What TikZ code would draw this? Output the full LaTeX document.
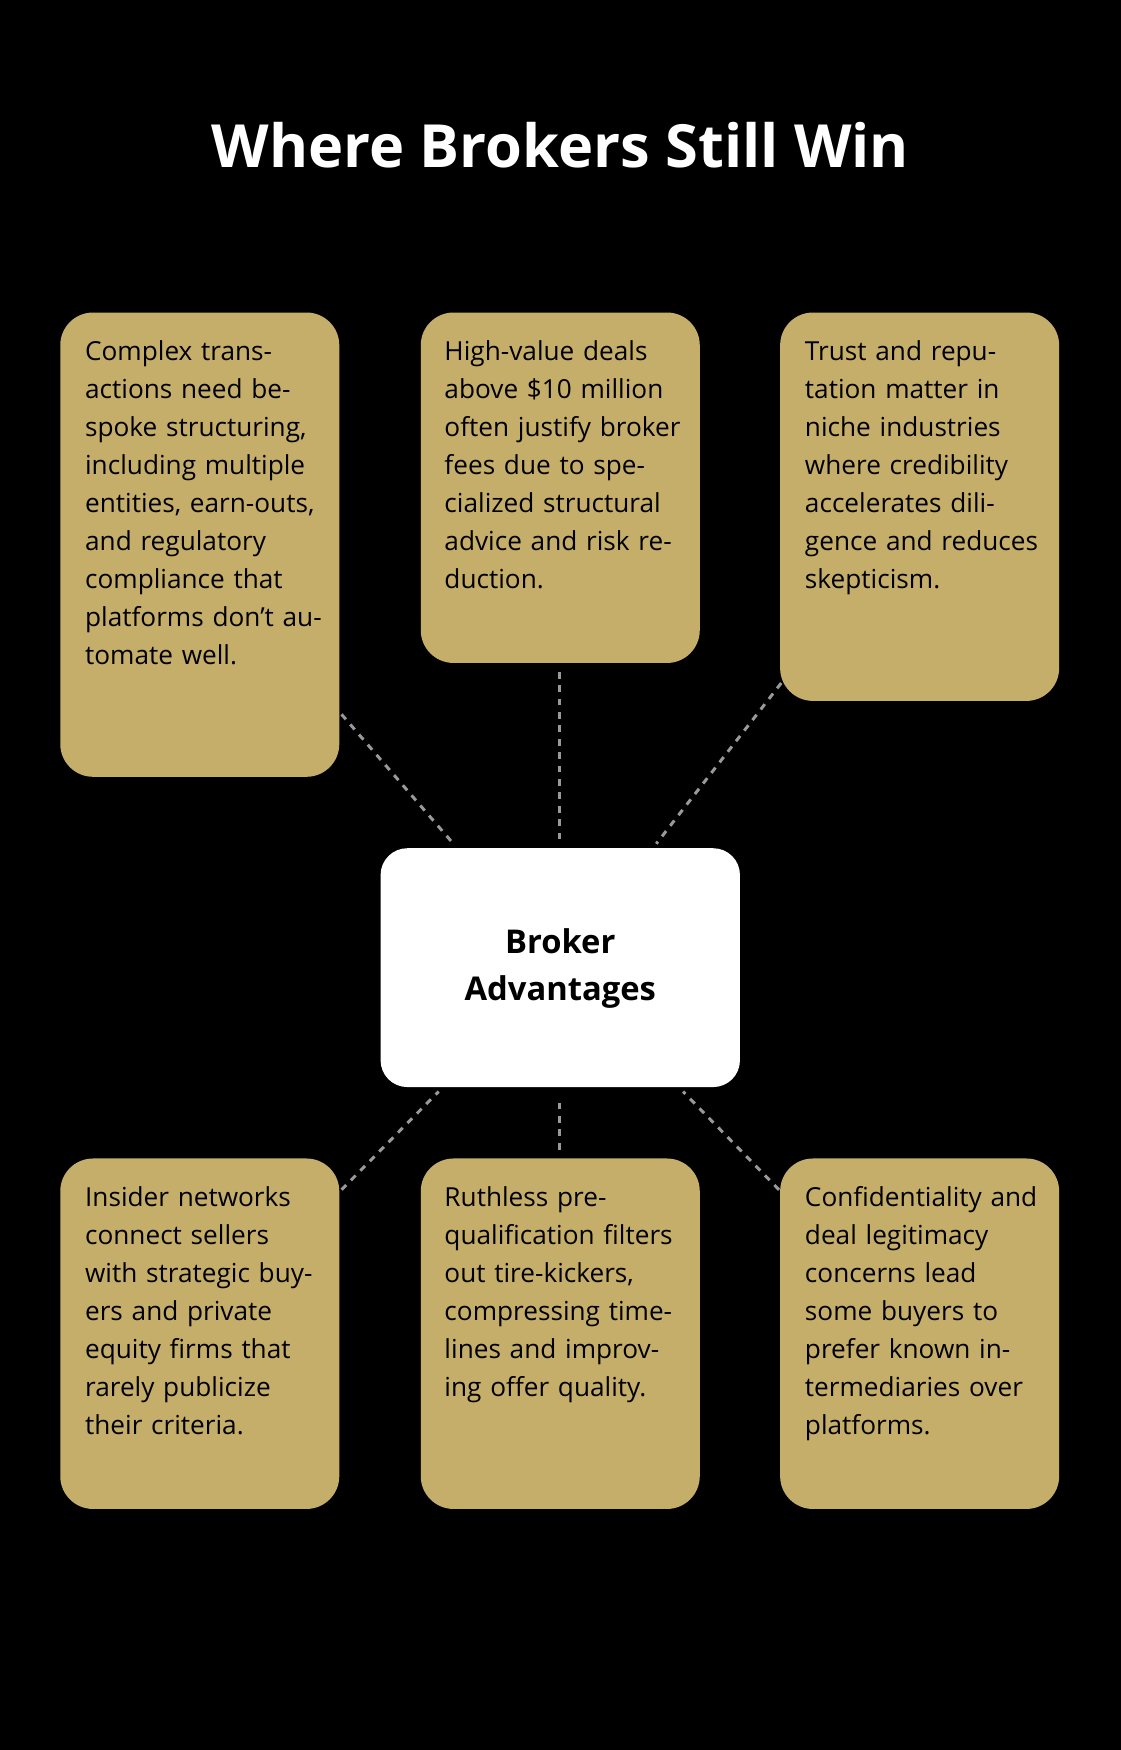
\documentclass[tikz,border=0pt]{standalone}
\usepackage{fontspec}
\setmainfont{Open Sans}
\begin{document}
\begin{tikzpicture}[x=0.75pt,y=-0.75pt,
  box/.style={fill=gold,rounded corners=22pt,draw=none},
  txt/.style={anchor=north west,inner sep=0pt,text width=160pt,align=left,font=\fontsize{17.6}{25.5}\selectfont,text=black},
  conn/.style={draw=gray!80,line width=2pt,dash pattern=on 4.5pt off 4.5pt}]
\definecolor{gold}{HTML}{C5AE6A}
\fill[black] (0,0) rectangle (1004,1568);
\useasboundingbox (0,0) rectangle (1004,1568);
\node[font=\bfseries\fontsize{40}{48}\selectfont,text=white] (title) at (502,130) {Where Brokers Still Win};
% boxes
\path[box] (54,280) rectangle (304,696);
\path[box] (377,280) rectangle (627,594);
\path[box] (699,280) rectangle (949,628);
\path[box] (54,1038) rectangle (304,1352);
\path[box] (377,1038) rectangle (627,1352);
\path[box] (699,1038) rectangle (949,1352);
\path[fill=white,rounded corners=18pt] (341,760) rectangle (663,974);
\node[font=\bfseries\fontsize{22}{31.5}\selectfont,align=center,text=black] (center) at (502,868) {Broker\\Advantages};
\node[txt] (t1) at (76,305) {Complex transactions need bespoke structuring, including multiple entities, earn-outs, and regulatory compliance that platforms don’t automate well.};
\node[txt] (t2) at (398,305) {High-value deals above \$10 million often justify broker fees due to specialized structural advice and risk reduction.};
\node[txt] (t3) at (721,305) {Trust and reputation matter in niche industries where credibility accelerates diligence and reduces skepticism.};
\node[txt] (t4) at (76,1063) {Insider networks connect sellers with strategic buyers and private equity firms that rarely publicize their criteria.};
\node[txt] (t5) at (398,1063) {Ruthless pre-qualification filters out tire-kickers, compressing timelines and improving offer quality.};
\node[txt] (t6) at (721,1063) {Confidentiality and deal legitimacy concerns lead some buyers to prefer known intermediaries over platforms.};
% connector ends
\coordinate (a1) at (306,640); \coordinate (b1) at (408,758);
\coordinate (a2) at (501,602); \coordinate (b2) at (501,752);
\coordinate (a3) at (700,612); \coordinate (b3) at (588,756);
\coordinate (a4) at (306,1066); \coordinate (b4) at (393,978);
\coordinate (a5) at (501,1030); \coordinate (b5) at (501,982);
\coordinate (a6) at (698,1066); \coordinate (b6) at (612,978);
\foreach \i in {1,...,6}{\draw[conn] (a\i) -- (b\i);}
\end{tikzpicture}
\end{document}
